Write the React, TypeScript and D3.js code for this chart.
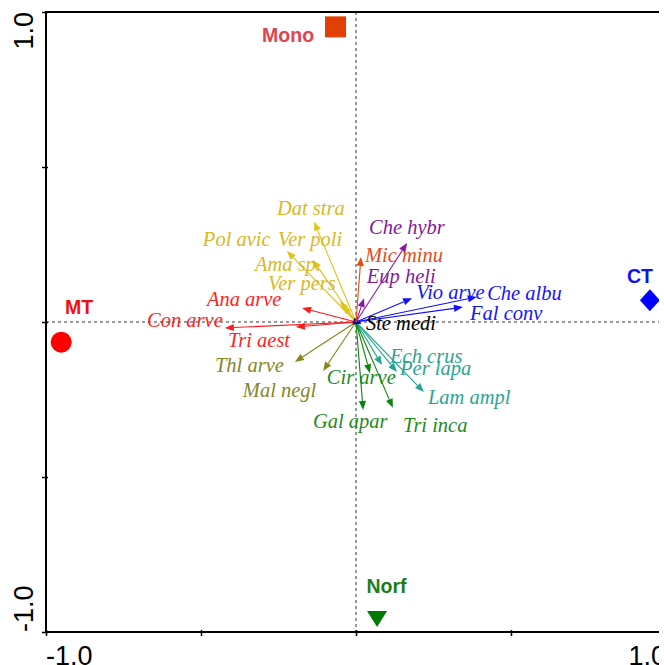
import React, { useEffect, useRef } from "react";
import * as d3 from "d3";

// species arrows (biplot scores)
const species = [
  "Dat stra", "Pol avic", "Ver poli", "Ama sp.", "Ver pers",
  "Ana arve", "Con arve", "Tri aest", "Thl arve", "Mal negl",
  "Cir arve", "Gal apar", "Tri inca", "Ech crus", "Per lapa",
  "Lam ampl", "Ste medi", "Vio arve", "Che albu", "Fal conv",
  "Che hybr", "Eup heli", "Mic minu",
];
const axis1 = [
  -0.135, -0.223, -0.042, -0.139, -0.052,
  -0.174, -0.423, -0.194, -0.197, -0.106,
  0.045, 0.023, 0.119, 0.084, 0.132,
  0.219, 0.019, 0.181, 0.39, 0.345,
  0.165, 0.026, 0.016,
];
const axis2 = [
  0.323, 0.229, 0.055, 0.2, 0.068,
  0.045, -0.019, -0.016, -0.129, -0.158,
  -0.165, -0.284, -0.277, -0.139, -0.161,
  -0.226, -0.006, 0.077, 0.081, 0.048,
  0.255, 0.077, 0.21,
];
// where each label sits (start of text, baseline), in axis units
const labelX = [
  -0.255, -0.494, -0.252, -0.326, -0.284,
  -0.481, -0.674, -0.413, -0.455, -0.365,
  -0.094, -0.139, 0.152, 0.11, 0.142,
  0.232, 0.032, 0.194, 0.423, 0.368,
  0.042, 0.035, 0.029,
];
const labelY = [
  0.345, 0.245, 0.245, 0.165, 0.103,
  0.052, -0.016, -0.081, -0.161, -0.242,
  -0.2, -0.342, -0.355, -0.132, -0.171,
  -0.265, -0.026, 0.074, 0.071, 0.006,
  0.284, 0.126, 0.194,
];
const group = [
  "yel", "yel", "yel", "yel", "yel",
  "red", "red", "red", "olv", "olv",
  "grn", "grn", "grn", "tea", "tea",
  "tea", "blk", "blu", "blu", "blu",
  "pur", "pur", "ora",
];

// sample (treatment) points
const samples = ["Mono", "MT", "CT", "Norf"];
const sampleX = [-0.066, -0.951, 0.948, 0.068];
const sampleY = [0.952, -0.065, 0.07, -0.958];
const sampleLabX = [-0.303, -0.939, 0.874, 0.034];
const sampleLabY = [0.904, 0.026, 0.126, -0.874];

const ticks = [-1, -0.5, 0, 0.5, 1];

const lineCol: Record<string, string> = {
  yel: "#e2c21c", red: "#ff1a1a", olv: "#86861a", grn: "#0a840a",
  tea: "#22a592", blk: "#10107a", blu: "#1010ff", pur: "#8a18a0", ora: "#e84a10",
};
const textCol: Record<string, string> = {
  yel: "#d8b824", red: "#ff2424", olv: "#86862a", grn: "#1f8a1f",
  tea: "#2aa596", blk: "#000000", blu: "#1414ff", pur: "#821a9c", ora: "#e84a18",
};

const App = () => {
  const ref = useRef<SVGSVGElement>(null);

  useEffect(() => {
    const svg = d3.select(ref.current);
    svg.selectAll("*").remove();

    const x = d3.scaleLinear().domain([-1, 1]).range([46, 666]);
    const y = d3.scaleLinear().domain([-1, 1]).range([632, 12]);

    svg.append("rect").attr("width", 664).attr("height", 665).attr("fill", "#fff");

    // zero lines
    svg.append("line")
      .attr("x1", x(-1)).attr("x2", x(1)).attr("y1", y(0)).attr("y2", y(0))
      .attr("stroke", "#333").attr("stroke-dasharray", "3,3");
    svg.append("line")
      .attr("x1", x(0)).attr("x2", x(0)).attr("y1", y(1)).attr("y2", y(-1))
      .attr("stroke", "#333").attr("stroke-dasharray", "3,3");

    // frame + ticks
    svg.append("rect")
      .attr("x", x(-1)).attr("y", y(1))
      .attr("width", x(1) - x(-1)).attr("height", y(-1) - y(1))
      .attr("fill", "none").attr("stroke", "#000").attr("stroke-width", 2);

    svg.append("g")
      .attr("transform", `translate(${x(-1)},0)`)
      .call(d3.axisLeft(y).tickValues(ticks).tickSize(4).tickSizeOuter(0).tickFormat(() => ""))
      .call((g) => g.select(".domain").remove())
      .selectAll("line").attr("stroke-width", 1.5).attr("x2", -4).attr("x1", 2);
    svg.append("g")
      .attr("transform", `translate(0,${y(-1)})`)
      .call(d3.axisBottom(x).tickValues(ticks).tickSize(4).tickSizeOuter(0).tickFormat(() => ""))
      .call((g) => g.select(".domain").remove())
      .selectAll("line").attr("stroke-width", 1.5).attr("y2", 4).attr("y1", -2);

    const tickFont = "'Liberation Sans', Arial, sans-serif";
    svg.append("text")
      .attr("transform", `translate(32.5,${y(1)}) rotate(-90)`)
      .attr("text-anchor", "end").attr("font-family", tickFont).attr("font-size", 27)
      .text("1.0");
    svg.append("text")
      .attr("transform", `translate(32.5,${y(-1)}) rotate(-90)`)
      .attr("text-anchor", "start").attr("font-family", tickFont).attr("font-size", 27)
      .text("-1.0");
    svg.append("text")
      .attr("x", x(-1)).attr("y", 665)
      .attr("text-anchor", "start").attr("font-family", tickFont).attr("font-size", 27)
      .text("-1.0");
    svg.append("text")
      .attr("x", x(1)).attr("y", 665)
      .attr("text-anchor", "end").attr("font-family", tickFont).attr("font-size", 27)
      .text("1.0");

    // species arrows
    const x0 = x(0), y0 = y(0);
    const arrows = svg.append("g");
    species.forEach((s, i) => {
      const tx = x(axis1[i]), ty = y(axis2[i]);
      const c = lineCol[group[i]];
      const dx = tx - x0, dy = ty - y0;
      const len = Math.hypot(dx, dy) || 1;
      const ux = dx / len, uy = dy / len;
      const L = 9, W = 3.6;
      const bx = tx - ux * L, by = ty - uy * L;
      arrows.append("line")
        .attr("x1", x0).attr("y1", y0).attr("x2", bx).attr("y2", by)
        .attr("stroke", c).attr("stroke-width", 1.1);
      arrows.append("path")
        .attr("d", `M${tx},${ty}L${bx - uy * W},${by + ux * W}L${bx + uy * W},${by - ux * W}Z`)
        .attr("fill", c);
    });

    svg.append("g").selectAll("text").data(species).join("text")
      .attr("x", (d, i) => x(labelX[i]))
      .attr("y", (d, i) => y(labelY[i]))
      .attr("font-family", "'Liberation Serif', 'Times New Roman', serif")
      .attr("font-style", "italic")
      .attr("font-size", 20.5)
      .attr("fill", (d, i) => textCol[group[i]])
      .text((d) => d);

    // samples
    const pts = svg.append("g");
    const sx = sampleX.map((v) => x(v)), sy = sampleY.map((v) => y(v));
    pts.append("rect")
      .attr("x", sx[0] - 10.5).attr("y", sy[0] - 10.5).attr("width", 21).attr("height", 21)
      .attr("fill", "#e04000");
    pts.append("circle").attr("cx", sx[1]).attr("cy", sy[1]).attr("r", 10.5).attr("fill", "#ff0000");
    pts.append("path")
      .attr("d", `M${sx[2]},${sy[2] - 11}L${sx[2] + 10},${sy[2]}L${sx[2]},${sy[2] + 11}L${sx[2] - 10},${sy[2]}Z`)
      .attr("fill", "#0000ff");
    pts.append("path")
      .attr("d", `M${sx[3] - 10},${sy[3] - 8}L${sx[3] + 10},${sy[3] - 8}L${sx[3]},${sy[3] + 8}Z`)
      .attr("fill", "#007a00");

    const sampleCol = ["#e2434e", "#f01010", "#1010f0", "#1a7f1a"];
    svg.append("g").selectAll("text").data(samples).join("text")
      .attr("x", (d, i) => x(sampleLabX[i]))
      .attr("y", (d, i) => y(sampleLabY[i]))
      .attr("font-family", tickFont)
      .attr("font-weight", "bold")
      .attr("font-size", 19.5)
      .attr("fill", (d, i) => sampleCol[i])
      .text((d) => d);
  }, []);

  return (
    <svg
      ref={ref}
      width={659}
      height={665}
      style={{ position: "absolute", left: 0, top: 0, display: "block" }}
    />
  );
};

export default App;
